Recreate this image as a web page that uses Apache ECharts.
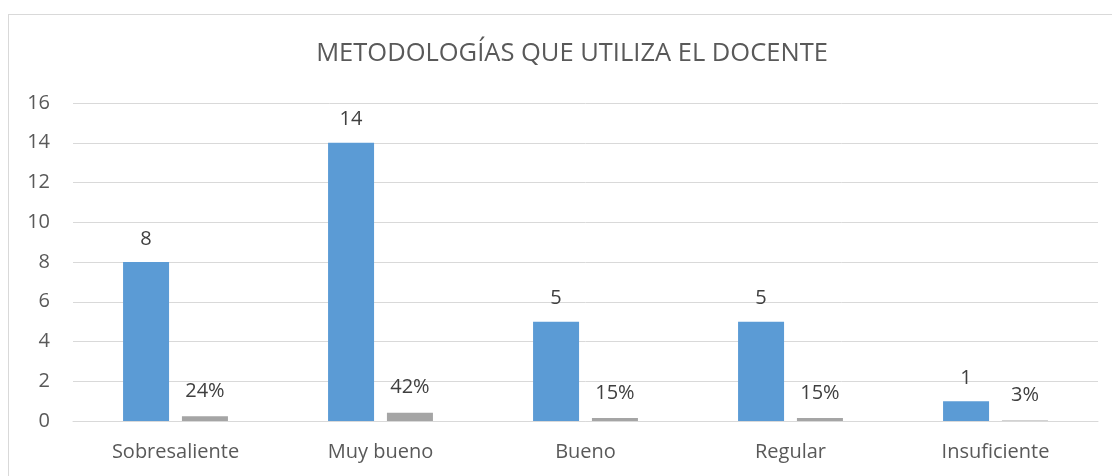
<!DOCTYPE html>
<html>
<head>
    <meta charset="utf-8">
    <title>ECharts</title>
    <script type="text/javascript" src="https://cdn.jsdelivr.net/npm/echarts@6/dist/echarts.min.js"></script>
    <style>
        html, body { margin: 0; padding: 0; background: #fff; }
        #frame { position: absolute; left: 8px; top: 14px; width: 1120px; height: 480px; border: 1px solid #d9d9d9; }
        #main { position: absolute; left: 0; top: 0; width: 1112px; height: 476px; }
    </style>
</head>
<body>
<div id="frame"></div>
<div id="main"></div>

<script type="text/javascript">
    // datos
    var categorias = ['Sobresaliente', 'Muy bueno', 'Bueno', 'Regular', 'Insuficiente'];
    var frecuencia = [8, 14, 5, 5, 1];
    var porcentaje = [0.24, 0.42, 0.15, 0.15, 0.03];
    var ticksY = [0, 2, 4, 6, 8, 10, 12, 14, 16];

    var fuente = '"Open Sans", "Liberation Sans", sans-serif';
    var chart = echarts.init(document.getElementById('main'));

    var option = {
        animation: false,
        title: {
            text: 'METODOLOGÍAS QUE UTILIZA EL DOCENTE',
            left: 567,
            textAlign: 'center',
            top: 36,
            textStyle: { color: '#595959', fontSize: 25.5, fontWeight: 'normal', fontFamily: fuente }
        },
        grid: { left: 73, right: 14, top: 103, bottom: 55 },
        xAxis: {
            type: 'category',
            data: categorias,
            axisLine: { lineStyle: { color: '#d9d9d9' } },
            axisTick: { show: false },
            axisLabel: { color: '#595959', fontSize: 20, fontFamily: fuente, margin: 21 }
        },
        yAxis: {
            type: 'value',
            min: ticksY[0],
            max: ticksY[ticksY.length - 1],
            interval: 2,
            axisLine: { show: false },
            axisTick: { show: false },
            splitLine: { lineStyle: { color: '#d9d9d9' } },
            axisLabel: { color: '#595959', fontSize: 20, fontFamily: fuente, margin: 23 }
        },
        series: [
            {
                name: 'Frecuencia',
                type: 'bar',
                data: frecuencia,
                barWidth: 46,
                barGap: '28%',
                itemStyle: { color: '#5b9bd5' },
                label: {
                    show: true, position: 'top', distance: 13,
                    color: '#404040', fontSize: 20, fontFamily: fuente
                }
            },
            {
                name: 'Porcentaje',
                type: 'bar',
                data: porcentaje,
                barWidth: 46,
                itemStyle: { color: '#a5a5a5' },
                label: {
                    show: true, position: 'top', distance: 15,
                    color: '#404040', fontSize: 20, fontFamily: fuente,
                    formatter: function (p) { return Math.round(p.value * 100) + '%'; }
                }
            }
        ]
    };
    chart.setOption(option);
</script>
</body>
</html>
